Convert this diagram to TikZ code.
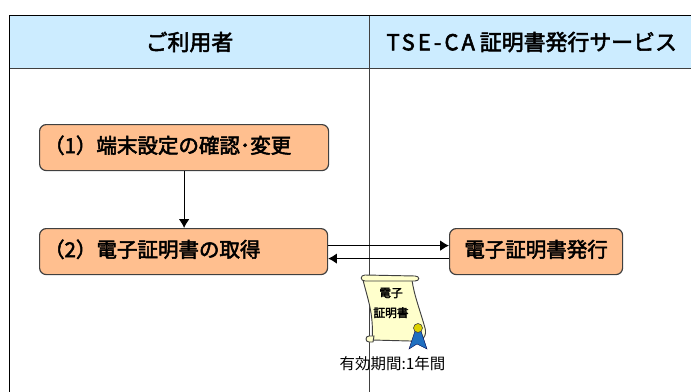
\documentclass[tikz,border=0pt]{standalone}
\usepackage{fontspec}
\usetikzlibrary{calc,arrows.meta}
\newfontfamily\jpfont[FakeBold=2.5]{Noto Sans CJK JP}
\newfontfamily\smallfont{Noto Sans CJK JP}
\newfontfamily\latinfont[LetterSpace=14,FakeBold=2.5]{Noto Sans CJK JP}
\definecolor{headblue}{HTML}{CCECFF}
\definecolor{boxorange}{HTML}{FFBF8F}
\definecolor{scrollyellow}{HTML}{FFFFCC}
\definecolor{ribbonblue}{HTML}{1F6FC0}
\definecolor{framegray}{HTML}{404040}
\tikzstyle{header} = [rectangle, fill=headblue, anchor=north west, minimum height=1.575cm, inner sep=0pt, font=\jpfont\fontsize{18.7pt}{20pt}\selectfont]
\tikzstyle{etape} = [rectangle, rounded corners=0.2cm, draw=framegray, line width=1pt, fill=boxorange, anchor=north west, minimum height=1.38cm, inner sep=0pt, text height=0.56cm, text depth=0.23cm, font=\jpfont\fontsize{17.5pt}{20pt}\selectfont]
\tikzstyle{lien} = [->, black, line width=1pt]

\begin{document}
\begin{tikzpicture}[x=0.03cm, y=-0.03cm, >={Latex[length=7.5pt,width=9pt]}]
        \useasboundingbox (0,0) rectangle (691,392);

        %% headers
        \node (head1) [header, minimum width=10.785cm] at (9.5,15.5) {ご利用者};
        \node (head2) [header, minimum width=9.645cm] at (369,15.5) {\hspace*{3pt}{\latinfont TSE-CA} 証明書発行サービス};

        %% frame
        \draw[black, line width=1.5pt] (head1.south west |- 0,392) -- (head1.north west) -- (head2.north east);
        \draw[framegray, line width=1pt] (head1.south west) -- (head2.south east);
        \draw[framegray, line width=1pt] (head1.north east) -- (head1.north east |- 0,392);

        %% steps
        \node (E1) [etape, minimum width=8.67cm, text width=8.4cm, align=left] at (39,124) {（1）端末設定の確認･変更};
        \node (E2) [etape, minimum width=8.64cm, text width=8.37cm, align=left] at (39,228) {（2）電子証明書の取得};
        \node (E3) [etape, minimum width=5.19cm, align=center] at (449,228) {電子証明書発行};

        %% relations
        \draw[lien] (E1.south) -- (E1.south |- E2.north);
        \draw[lien] ($(E2.east) + (0,-6)$) -- ($(E3.west) + (0,-6)$);
        \draw[lien] ($(E3.west) + (0,7)$) -- ($(E2.east) + (0,7)$);

        %% certificate
        \draw[framegray, line width=0.8pt, fill=scrollyellow] (363,280) .. controls (368,300) and (374,315) .. (372,340) -- (410,341) .. controls (424,343) and (427,335) .. (425,328) .. controls (420,310) and (414,295) .. (412,280) -- cycle;
        \draw[framegray, line width=0.8pt, fill=scrollyellow] (365,275) -- (415,276) .. controls (420,276) and (420,281) .. (415,281) -- (365,281) .. controls (360,281) and (360,275) .. (365,275) -- cycle;
        \draw[framegray, line width=0.8pt, fill=scrollyellow] (369,336) -- (374,336) -- (373,342) -- (369,342) .. controls (365,342) and (365,336) .. (369,336) -- cycle;
        \draw[black!70!blue, line width=0.3pt, fill=ribbonblue] (415,331) -- (409,349) -- (417,344) -- (427,349) -- (421,331) -- cycle;
        \draw[framegray, line width=0.5pt, fill=yellow!70!olive] (418,328) circle (4.5);
        \node (cert) [font=\jpfont\fontsize{10pt}{17pt}\selectfont, align=center] at (391,303) {電子\\証明書};
        \node (validity) [font=\smallfont\fontsize{13.2pt}{14pt}\selectfont] at (392.5,364) {有効期間:1年間};

\end{tikzpicture}
\end{document}
